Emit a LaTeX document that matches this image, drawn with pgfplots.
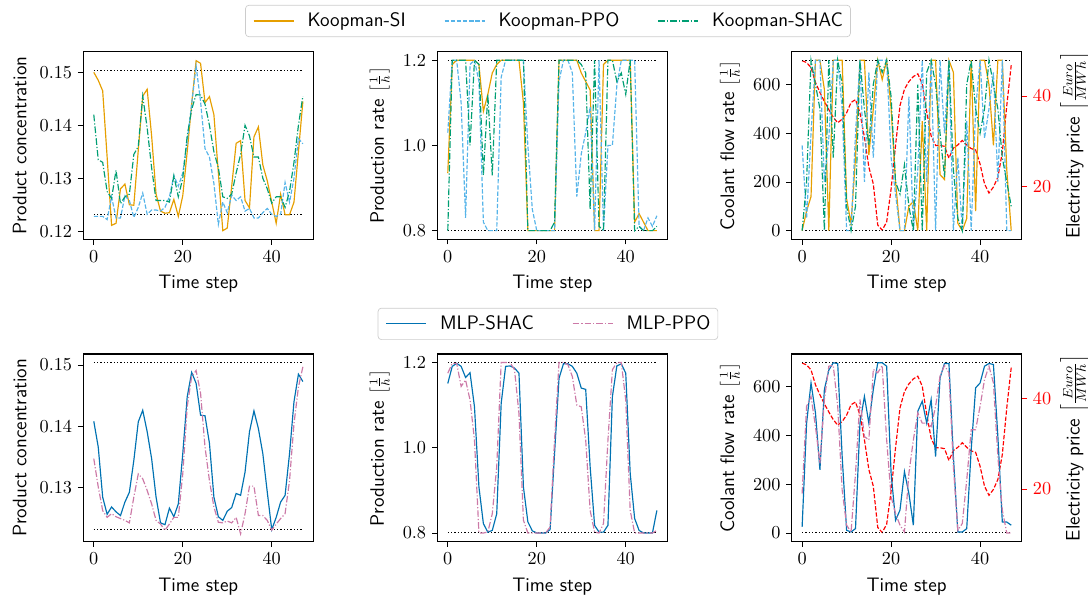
\documentclass[border=0pt]{standalone}
\usepackage{fontspec}
\usepackage{pgfplots}
\usepackage{pgfplotstable}
\pgfplotsset{compat=1.18}
\renewcommand{\familydefault}{\sfdefault}

\definecolor{cSI}{HTML}{E69F00}
\definecolor{cPPO}{HTML}{56B4E9}
\definecolor{cSHAC}{HTML}{009E73}
\definecolor{cMS}{HTML}{0072B2}
\definecolor{cMP}{HTML}{CC79A7}

% top-left: product concentration
\pgfplotstableread{
t si ppo shac
0 0.1500 0.1228 0.1420
1 0.1485 0.1228 0.1335
2 0.1465 0.1228 0.1330
3 0.1340 0.1222 0.1275
4 0.1211 0.1265 0.1262
5 0.1215 0.1225 0.1315
6 0.1280 0.1225 0.1252
7 0.1289 0.1267 0.1265
8 0.1250 0.1258 0.1270
9 0.1249 0.1226 0.1345
10 0.1353 0.1245 0.1360
11 0.1455 0.1272 0.1455
12 0.1468 0.1232 0.1395
13 0.1380 0.1240 0.1320
14 0.1270 0.1240 0.1258
15 0.1238 0.1238 0.1258
16 0.1234 0.1245 0.1258
17 0.1235 0.1265 0.1255
18 0.1260 0.1305 0.1305
19 0.1228 0.1285 0.1265
20 0.1267 0.1310 0.1300
21 0.1350 0.1370 0.1380
22 0.1440 0.1440 0.1430
23 0.1522 0.1512 0.1458
24 0.1517 0.1445 0.1457
25 0.1443 0.1356 0.1440
26 0.1454 0.1340 0.1400
27 0.1420 0.1290 0.1350
28 0.1310 0.1213 0.1320
29 0.1201 0.1255 0.1265
30 0.1206 0.1235 0.1262
31 0.1285 0.1268 0.1270
32 0.1366 0.1258 0.1310
33 0.1371 0.1265 0.1345
34 0.1258 0.1238 0.1400
35 0.1244 0.1243 0.1380
36 0.1378 0.1225 0.1340
37 0.1397 0.1225 0.1340
38 0.1325 0.1235 0.1300
39 0.1295 0.1243 0.1280
40 0.1255 0.1232 0.1253
41 0.1215 0.1228 0.1265
42 0.1270 0.1232 0.1265
43 0.1231 0.1292 0.1245
44 0.1231 0.1255 0.1275
45 0.1255 0.1300 0.1330
46 0.1350 0.1375 0.1400
47 0.1445 0.1365 0.1455
}\concK

% top-middle: production rate
\pgfplotstableread{
t si ppo shac
0 0.935 1.03 0.80
1 1.19 1.20 1.20
2 1.20 1.20 1.20
3 1.20 1.10 1.20
4 1.20 0.83 1.20
5 1.20 1.19 1.00
6 1.20 1.20 1.20
7 1.19 1.15 1.19
8 1.08 0.82 0.93
9 1.12 0.80 1.12
10 1.17 0.80 0.93
11 1.19 0.80 1.20
12 1.20 1.16 1.20
13 1.20 1.20 1.20
14 1.20 1.20 1.20
15 1.20 1.20 1.20
16 1.20 1.20 1.20
17 1.10 1.20 1.20
18 0.80 1.00 0.80
19 0.80 0.85 0.80
20 0.80 0.80 0.80
21 0.80 0.80 0.80
22 0.80 0.80 0.80
23 0.80 0.80 0.80
24 0.80 0.80 0.82
25 1.20 1.15 1.20
26 1.20 1.20 1.20
27 1.20 1.20 1.20
28 1.20 1.17 1.20
29 1.20 0.88 1.20
30 1.17 0.98 1.19
31 1.15 1.03 1.17
32 1.13 1.09 0.85
33 0.80 0.80 1.20
34 0.80 1.20 0.81
35 1.19 0.80 0.80
36 1.20 1.00 1.20
37 1.20 1.00 1.20
38 1.20 1.14 1.15
39 1.20 1.20 1.17
40 1.20 1.20 1.12
41 1.20 1.20 1.20
42 0.82 1.20 0.80
43 0.84 0.81 0.81
44 0.82 0.80 0.80
45 0.80 0.83 0.80
46 0.80 0.81 0.80
47 0.80 0.835 0.81
}\prodK

% top-right: coolant flow rate
\pgfplotstableread{
t si ppo shac
0 0 350 0
1 80 50 200
2 140 400 700
3 700 700 600
4 700 700 500
5 580 200 0
6 0 380 700
7 700 700 300
8 700 700 700
9 700 500 600
10 130 0 100
11 30 0 0
12 300 400 100
13 700 700 700
14 700 200 500
15 310 650 350
16 500 300 600
17 700 700 700
18 620 700 650
19 700 700 700
20 500 300 550
21 200 150 200
22 0 0 150
23 0 0 270
24 100 550 100
25 120 0 0
26 0 250 600
27 450 700 0
28 0 200 650
29 700 700 700
30 700 0 600
31 230 700 400
32 210 400 220
33 700 700 700
34 650 0 250
35 30 300 50
36 0 0 0
37 50 450 600
38 700 0 700
39 80 500 500
40 700 700 400
41 700 380 500
42 600 500 700
43 350 650 600
44 700 200 500
45 700 700 300
46 250 0 200
47 0 0 100
}\coolK

% bottom-left: product concentration (MLP)
\pgfplotstableread{
t shac ppo
0 0.1408 0.1347
1 0.1366 0.1301
2 0.1284 0.1262
3 0.1256 0.1251
4 0.1268 0.1257
5 0.1260 0.1252
6 0.1254 0.1249
7 0.1276 0.1246
8 0.1292 0.1242
9 0.1344 0.1284
10 0.1407 0.1322
11 0.1426 0.1314
12 0.1391 0.1295
13 0.1347 0.1273
14 0.1284 0.1246
15 0.1242 0.1240
16 0.1239 0.1230
17 0.1266 0.1240
18 0.1252 0.1251
19 0.1273 0.1251
20 0.1355 0.1322
21 0.1448 0.1432
22 0.1488 0.1481
23 0.1470 0.1491
24 0.1418 0.1454
25 0.1417 0.1366
26 0.1372 0.1311
27 0.1284 0.1268
28 0.1252 0.1243
29 0.1246 0.1242
30 0.1261 0.1245
31 0.1267 0.1242
32 0.1290 0.1251
33 0.1287 0.1224
34 0.1325 0.1257
35 0.1391 0.1302
36 0.1425 0.1302
37 0.1396 0.1254
38 0.1355 0.1254
39 0.1292 0.1246
40 0.1231 0.1230
41 0.1251 0.1240
42 0.1276 0.1249
43 0.1287 0.1257
44 0.1355 0.1311
45 0.1440 0.1404
46 0.1485 0.1464
47 0.1473 0.1497
}\concM

% bottom-middle: production rate (MLP)
\pgfplotstableread{
t shac ppo
0 1.151 1.175
1 1.191 1.198
2 1.198 1.198
3 1.191 1.144
4 1.165 1.159
5 1.176 1.112
6 1.096 1.018
7 0.908 0.800
8 0.822 0.800
9 0.802 0.802
10 0.806 0.845
11 0.845 0.955
12 1.104 1.200
13 1.191 1.200
14 1.192 1.200
15 1.187 1.183
16 1.175 1.080
17 0.908 0.830
18 0.826 0.800
19 0.805 0.800
20 0.800 0.800
21 0.800 0.800
22 0.800 0.800
23 0.808 0.814
24 0.987 1.018
25 1.163 1.200
26 1.197 1.200
27 1.197 1.195
28 1.191 1.167
29 1.175 1.100
30 1.140 1.096
31 1.137 1.018
32 0.955 0.853
33 0.818 0.802
34 0.802 0.800
35 0.802 0.822
36 0.818 1.018
37 1.120 1.183
38 1.192 1.200
39 1.197 1.200
40 1.175 1.112
41 0.940 0.853
42 0.834 0.800
43 0.806 0.800
44 0.800 0.800
45 0.800 0.800
46 0.800 0.800
47 0.853 0.806
}\prodM

% bottom-right: coolant flow rate (MLP)
\pgfplotstableread{
t shac ppo
0 25 162
1 450 520
2 616 561
3 493 437
4 259 286
5 589 548
6 669 685
7 699 688
8 696 520
9 314 176
10 11 32
11 4 4
12 18 245
13 451 548
14 561 396
15 451 382
16 589 672
17 699 658
18 699 688
19 685 382
20 245 149
21 52 80
22 94 32
23 252 4
24 162 245
25 32 382
26 500 493
27 541 451
28 451 451
29 548 437
30 314 520
31 637 644
32 696 688
33 696 658
34 314 272
35 4 11
36 4 39
37 18 217
38 341 424
39 596 424
40 616 520
41 685 630
42 696 685
43 692 616
44 396 314
45 45 94
46 45 0
47 32 0
}\coolM

% electricity price
\pgfplotstableread{
t p
0 47.8
1 47.4
2 46.3
3 43.0
4 40.8
5 38.8
6 37.0
7 35.3
8 34.1
9 34.9
10 36.3
11 38.6
12 39.2
13 36.3
14 30.9
15 24.3
16 20.6
17 11.5
18 10.4
19 12.2
20 19.5
21 29.1
22 37.9
23 41.5
24 43.2
25 44.3
26 44.9
27 42.7
28 36.5
29 31.2
30 29.1
31 29.1
32 28.9
33 26.3
34 28.5
35 29.2
36 30.2
37 29.2
38 28.4
39 28.1
40 25.0
41 20.6
42 18.6
43 19.9
44 22.1
45 27.6
46 37.9
47 46.8
}\price

\newcommand{\lbl}{\fontsize{11.7}{14}\selectfont\sffamily}
\newcommand{\unit}[1]{{\fontsize{10}{12}\selectfont$\left[#1\right]$}}
\newcommand{\bigunit}[1]{{\fontsize{11}{13}\selectfont$\left[#1\right]$}}

\pgfplotsset{
  panel/.style={
    scale only axis, width=138pt, height=112.5pt,
    xmin=-2.35, xmax=49.35, xtick={0,20,40},
    tick align=outside, tick pos=left,
    major tick length=3.2pt,
    every tick/.style={black, line width=0.5pt},
    axis line style={line width=0.65pt},
    ticklabel style={font=\fontsize{11}{13}\selectfont},
    xlabel={Time step},
    label style={font=\lbl},
    xlabel shift=1pt, ylabel shift=1pt,
    legend image code/.code={\draw[#1] (0pt,0pt) -- (24pt,0pt);},
    legend style={draw=black!20, rounded corners=2pt, font=\lbl,
      inner xsep=4.5pt, inner ysep=2.5pt,
      nodes={inner xsep=0pt, inner ysep=2pt},
      /tikz/every odd column/.append style={column sep=8pt},
      /tikz/every even column/.append style={column sep=23pt}},
  },
  twin/.style={
    scale only axis, width=138pt, height=112.5pt,
    xmin=-2.35, xmax=49.35, axis x line=none,
    axis y line*=right, ymin=8.4, ymax=49.8, ytick={20,40},
    tick align=outside, major tick length=3.2pt,
    every tick/.style={red, line width=0.5pt},
    axis line style={line width=0.65pt},
    ticklabel style={font=\fontsize{11}{13}\selectfont},
    yticklabel style={red},
    ylabel={Electricity price \bigunit{\frac{Euro}{MWh}}},
    ylabel shift=-1.5pt,
    label style={font=\lbl},
  },
  lSI/.style={color=cSI, line width=0.7pt},
  lPPO/.style={color=cPPO, line width=0.7pt, dash pattern=on 2.6pt off 1.1pt},
  lSHAC/.style={color=cSHAC, line width=0.7pt, dash pattern=on 4pt off 1.2pt on 0.7pt off 1.2pt},
  lMS/.style={color=cMS, line width=0.7pt},
  lMP/.style={color=cMP, line width=0.7pt, dash pattern=on 4pt off 1.2pt on 0.7pt off 1.2pt},
  lPrice/.style={color=red, line width=0.7pt, dash pattern=on 2.6pt off 1.1pt},
  bound/.style={black, line width=0.6pt, dash pattern=on 0.7pt off 1.3pt, forget plot},
}

\begin{document}
\begin{tikzpicture}
\path[use as bounding box] (0,0) rectangle (652.8pt,-358.8pt);

% ---------- top row ----------
\begin{axis}[panel, at={(50pt,-31pt)}, anchor=north west,
  ymin=0.1185, ymax=0.1539, ytick={0.12,0.13,0.14,0.15},
  yticklabel style={/pgf/number format/fixed, /pgf/number format/precision=2},
  ylabel={Product concentration}]
\addplot[bound] coordinates {(0,0.1504) (47,0.1504)};
\addplot[bound] coordinates {(0,0.1231) (47,0.1231)};
\addplot[lSI] table[x=t,y=si] {\concK};
\addplot[lPPO] table[x=t,y=ppo] {\concK};
\addplot[lSHAC] table[x=t,y=shac] {\concK};
\end{axis}

\begin{axis}[panel, at={(262.4pt,-31pt)}, anchor=north west,
  ymin=0.78, ymax=1.22, ytick={0.8,1.0,1.2},
  yticklabel style={/pgf/number format/fixed, /pgf/number format/fixed zerofill, /pgf/number format/precision=1},
  ylabel={Production rate \unit{\frac{1}{h}}},
  legend columns=3,
  legend style={at={(0.481,1.078)}, anchor=south}]
\addplot[bound] coordinates {(0,1.2) (47,1.2)};
\addplot[bound] coordinates {(0,0.8) (47,0.8)};
\addplot[lSI] table[x=t,y=si] {\prodK};
\addlegendentry{Koopman-SI}
\addplot[lPPO] table[x=t,y=ppo] {\prodK};
\addlegendentry{Koopman-PPO}
\addplot[lSHAC] table[x=t,y=shac] {\prodK};
\addlegendentry{Koopman-SHAC}
\end{axis}

\begin{axis}[twin, at={(475pt,-31pt)}, anchor=north west]
\addplot[lPrice] table[x=t,y=p] {\price};
\end{axis}
\begin{axis}[panel, at={(475pt,-31pt)}, anchor=north west,
  ymin=-35, ymax=735, ytick={0,200,400,600},
  ylabel={Coolant flow rate \unit{\frac{1}{h}}}]
\addplot[bound] coordinates {(0,700) (47,700)};
\addplot[bound] coordinates {(0,0) (47,0)};
\addplot[lSI] table[x=t,y=si] {\coolK};
\addplot[lPPO] table[x=t,y=ppo] {\coolK};
\addplot[lSHAC] table[x=t,y=shac] {\coolK};
\end{axis}

% ---------- bottom row ----------
\begin{axis}[panel, at={(50pt,-212.4pt)}, anchor=north west,
  ymin=0.12115, ymax=0.1518, ytick={0.13,0.14,0.15},
  yticklabel style={/pgf/number format/fixed, /pgf/number format/precision=2},
  ylabel={Product concentration}]
\addplot[bound] coordinates {(0,0.1504) (47,0.1504)};
\addplot[bound] coordinates {(0,0.1231) (47,0.1231)};
\addplot[lMS] table[x=t,y=shac] {\concM};
\addplot[lMP] table[x=t,y=ppo] {\concM};
\end{axis}

\begin{axis}[panel, at={(262.4pt,-212.4pt)}, anchor=north west,
  ymin=0.78, ymax=1.22, ytick={0.8,1.0,1.2},
  yticklabel style={/pgf/number format/fixed, /pgf/number format/fixed zerofill, /pgf/number format/precision=1},
  ylabel={Production rate \unit{\frac{1}{h}}},
  legend columns=2,
  legend style={at={(0.481,1.075)}, anchor=south}]
\addplot[bound] coordinates {(0,1.2) (47,1.2)};
\addplot[bound] coordinates {(0,0.8) (47,0.8)};
\addplot[lMS] table[x=t,y=shac] {\prodM};
\addlegendentry{MLP-SHAC}
\addplot[lMP] table[x=t,y=ppo] {\prodM};
\addlegendentry{MLP-PPO}
\end{axis}

\begin{axis}[twin, at={(475pt,-212.4pt)}, anchor=north west]
\addplot[lPrice] table[x=t,y=p] {\price};
\end{axis}
\begin{axis}[panel, at={(475pt,-212.4pt)}, anchor=north west,
  ymin=-35, ymax=735, ytick={0,200,400,600},
  ylabel={Coolant flow rate \unit{\frac{1}{h}}}]
\addplot[bound] coordinates {(0,700) (47,700)};
\addplot[bound] coordinates {(0,0) (47,0)};
\addplot[lMS] table[x=t,y=shac] {\coolM};
\addplot[lMP] table[x=t,y=ppo] {\coolM};
\end{axis}
\end{tikzpicture}
\end{document}
